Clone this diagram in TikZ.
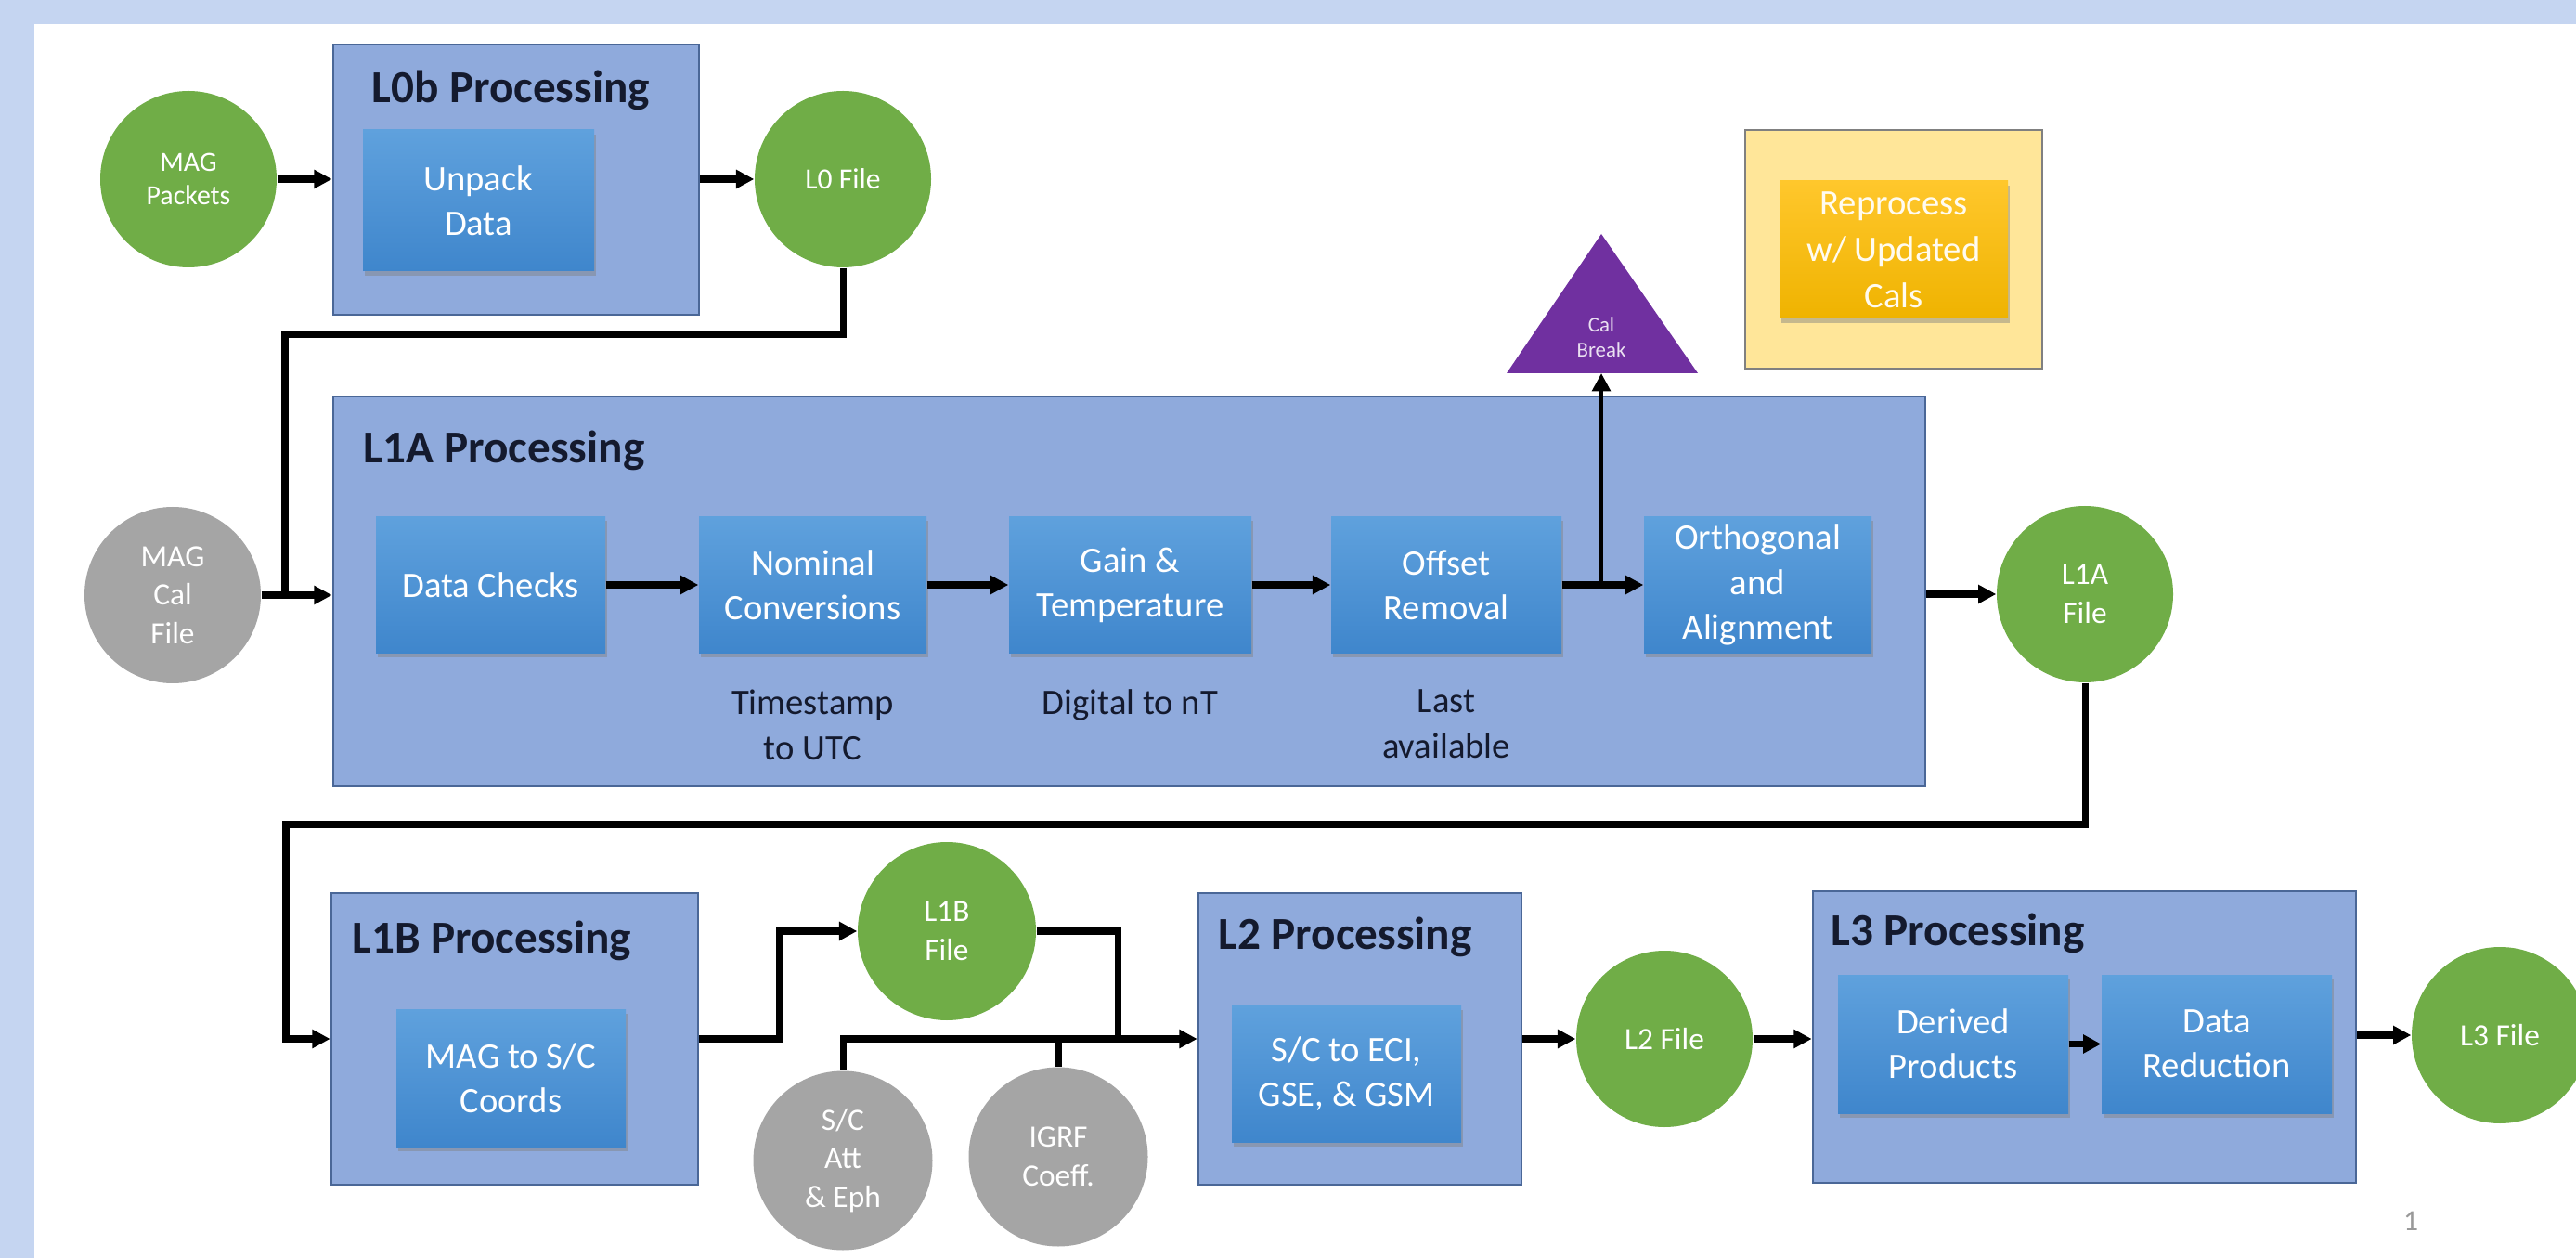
\documentclass[tikz,border=0pt]{standalone}
\usepackage{fontspec}
\setmainfont{Carlito}
\usepackage{tikz}
\usetikzlibrary{calc,arrows.meta}
\usetikzlibrary{shadows}
\usetikzlibrary{positioning}
\definecolor{mp-band}{HTML}{C5D5F1}
\definecolor{mp-proc}{HTML}{8FAADC}
\definecolor{mp-procline}{HTML}{4A6797}
\definecolor{mp-steptop}{HTML}{5FA1DD}
\definecolor{mp-stepbot}{HTML}{3F86CC}
\definecolor{mp-green}{HTML}{70AD47}
\definecolor{mp-gray}{HTML}{A5A5A5}
\definecolor{mp-purple}{HTML}{7030A0}
\definecolor{mp-cream}{HTML}{FFE699}
\definecolor{mp-goldtop}{HTML}{FFC72C}
\definecolor{mp-goldbot}{HTML}{EFB300}
\definecolor{mp-title}{HTML}{141A2E}

\begin{document}
\begin{tikzpicture}[
    >={Triangle[length=5.5pt,width=5.5pt]},
    % Boxes and circles of the pipeline
    procbox/.style={draw=mp-procline, line width=0.8pt, fill=mp-proc, inner sep=0pt},
    stepbox/.style={top color=mp-steptop, bottom color=mp-stepbot, text=white, align=center, inner sep=0pt,
      font=\fontsize{11}{13.7}\selectfont, drop shadow={shadow xshift=0.6pt, shadow yshift=-1.4pt, opacity=0.45}},
    filenode/.style={circle, fill=mp-green, text=white, align=center, inner sep=0pt, minimum size=1.9cm,
      font=\fontsize{9.5}{11.8}\selectfont},
    srcnode/.style={filenode, fill=mp-gray},
    titlestyle/.style={font=\fontsize{14}{16}\selectfont\bfseries, text=mp-title, anchor=base west, inner sep=0pt},
    notestyle/.style={font=\fontsize{11}{13.8}\selectfont, text=mp-title, align=center, inner sep=0pt, anchor=north},
    flow/.style={->, line width=2pt},
    link/.style={line width=2pt}
  ]

  \useasboundingbox (0,0) rectangle (27.75,-13.55);
  \fill[mp-band] (0,0) rectangle (27.75,-13.55);
  \fill[white] (0.37,-0.26) rectangle (27.75,-13.55);

  % =========================================================================
  % L0b PROCESSING
  % =========================================================================
  \node[procbox, minimum width=3.94cm, minimum height=2.91cm] (l0b) at (5.56,-1.935) {};
  \node[titlestyle] (l0btitle) at (4.00,-1.11) {L0b Processing};
  \node[stepbox, minimum width=2.49cm, minimum height=1.52cm] (unpack) at (5.155,-2.16) {Unpack\\Data};
  \node[filenode, font=\fontsize{8.5}{10}\selectfont] (packets) at (2.03,-1.93) {MAG\\Packets};
  \node[filenode, font=\fontsize{9}{10}\selectfont] (l0file) at (9.08,-1.93) {L0 File};

  \draw[flow] (packets.east) -- (packets.east -| l0b.west);
  \draw[flow] (l0b.east |- l0file) -- (l0file.west);

  % =========================================================================
  % CAL BREAK AND REPROCESSING
  % =========================================================================
  \fill[mp-purple] (16.23,-4.02) -- (17.25,-2.52) -- (18.29,-4.02) -- cycle;
  \node[text=white!85!mp-purple, align=center, inner sep=0pt, font=\fontsize{6.5}{7.6}\selectfont] (calbreak) at (17.25,-3.63) {Cal\\Break};
  \coordinate (calbase) at (17.25,-4.02);

  \node[draw=gray, line width=0.8pt, fill=mp-cream, minimum width=3.2cm, minimum height=2.57cm, inner sep=0pt] (calsbox) at (20.40,-2.685) {};
  \node[stepbox, top color=mp-goldtop, bottom color=mp-goldbot, text=white!85!mp-cream, font=\fontsize{11}{14.2}\selectfont,
    minimum width=2.46cm, minimum height=1.48cm] (reprocess) at (20.40,-2.69) {Reprocess\\w/ Updated\\Cals};

  % =========================================================================
  % L1A PROCESSING
  % =========================================================================
  \node[procbox, minimum width=17.15cm, minimum height=4.20cm] (l1a) at (12.165,-6.37) {};
  \node[titlestyle] (l1atitle) at (3.91,-4.99) {L1A Processing};

  \node[stepbox, minimum width=2.47cm, minimum height=1.47cm] (checks) at (5.285,-6.30) {Data Checks};
  \node[stepbox, minimum width=2.45cm, minimum height=1.47cm] (nominal) at (8.755,-6.30) {Nominal\\Conversions};
  \node[stepbox, minimum width=2.61cm, minimum height=1.47cm] (gain) at (12.175,-6.30) {Gain \&\\Temperature};
  \node[stepbox, minimum width=2.48cm, minimum height=1.47cm] (offset) at (15.58,-6.30) {Offset\\Removal};
  \node[stepbox, minimum width=2.45cm, minimum height=1.47cm] (ortho) at (18.935,-6.30) {Orthogonal\\and\\Alignment};

  \node[notestyle, below=0.38cm of nominal] (utcnote) {Timestamp\\to UTC};
  \node[notestyle, below=0.38cm of gain] (ntnote) {Digital to nT};
  \node[notestyle, below=0.38cm of offset] (lastnote) {Last\\available};

  \draw[flow] (checks.east) -- (nominal.west);
  \draw[flow] (nominal.east) -- (gain.west);
  \draw[flow] (gain.east) -- (offset.west);
  \draw[flow] (offset.east) -- (ortho.west);
  \draw[flow, line width=1.3pt] (calbase |- offset.east) -- (calbase);

  \node[srcnode] (calfile) at (1.86,-6.41) {MAG\\Cal\\File};
  \node[filenode] (l1afile) at (22.46,-6.40) {L1A\\File};

  \coordinate (drop1) at (3.07,-3.60);
  \draw[link] (l0file.south) |- (drop1) -- (drop1 |- calfile.east);
  \draw[flow] (calfile.east) -- (calfile.east -| l1a.west);
  \draw[flow] (l1a.east |- l1afile) -- (l1afile.west);

  % =========================================================================
  % L1B PROCESSING
  % =========================================================================
  \node[procbox, minimum width=3.95cm, minimum height=3.14cm] (l1b) at (5.545,-11.19) {};
  \node[titlestyle] (l1btitle) at (3.79,-10.26) {L1B Processing};
  \node[stepbox, minimum width=2.47cm, minimum height=1.48cm] (mag2sc) at (5.505,-11.61) {MAG to S/C\\Coords};

  \coordinate (drop2) at (3.08,-8.88);
  \draw[flow] (l1afile.south) |- (drop2) |- (l1b.west);

  \node[filenode, minimum size=1.92cm] (l1bfile) at (10.20,-10.03) {L1B\\File};
  \node[srcnode, minimum size=1.93cm] (scatt) at (9.08,-12.50) {S/C\\Att\\\& Eph};
  \node[srcnode, minimum size=1.93cm] (igrf) at (11.40,-12.46) {IGRF\\Coeff.};

  \coordinate (jog) at (8.39,0);
  \coordinate (merge) at (12.04,-11.19);
  \draw[flow] (l1b.east) -| (jog |- l1bfile) -- (l1bfile.west);
  \draw[link] (l1bfile.east) -| (merge);

  % =========================================================================
  % L2 PROCESSING
  % =========================================================================
  \node[procbox, minimum width=3.48cm, minimum height=3.14cm] (l2) at (14.65,-11.19) {};
  \node[titlestyle] (l2title) at (13.12,-10.22) {L2 Processing};
  \node[stepbox, minimum width=2.47cm, minimum height=1.47cm] (sc2eci) at (14.505,-11.565) {S/C to ECI,\\GSE, \& GSM};

  \draw[flow] (scatt.north) |- (l2.west);
  \draw[link] (igrf.north) -- (igrf.north |- l2.west);

  \node[filenode] (l2file) at (17.93,-11.19) {L2 File};
  \draw[flow] (l2.east) -- (l2file.west);

  % =========================================================================
  % L3 PROCESSING
  % =========================================================================
  \node[procbox, minimum width=5.85cm, minimum height=3.14cm] (l3) at (22.455,-11.17) {};
  \node[titlestyle] (l3title) at (19.72,-10.18) {L3 Processing};
  \node[stepbox, minimum width=2.48cm, minimum height=1.49cm] (derived) at (21.04,-11.245) {Derived\\Products};
  \node[stepbox, minimum width=2.48cm, minimum height=1.49cm] (reduction) at (23.88,-11.245) {Data\\Reduction};
  \draw[flow] (derived.east) -- (reduction.west);

  \node[filenode] (l3file) at (26.93,-11.15) {L3 File};
  \draw[flow] (l2file.east) -- (l2file.east -| l3.west);
  \draw[flow] (l3.east |- l3file) -- (l3file.west);

  \node[text=gray!80, inner sep=0pt, font=\fontsize{9}{10}\selectfont] (pagenum) at (25.97,-13.15) {1};

\end{tikzpicture}
\end{document}
